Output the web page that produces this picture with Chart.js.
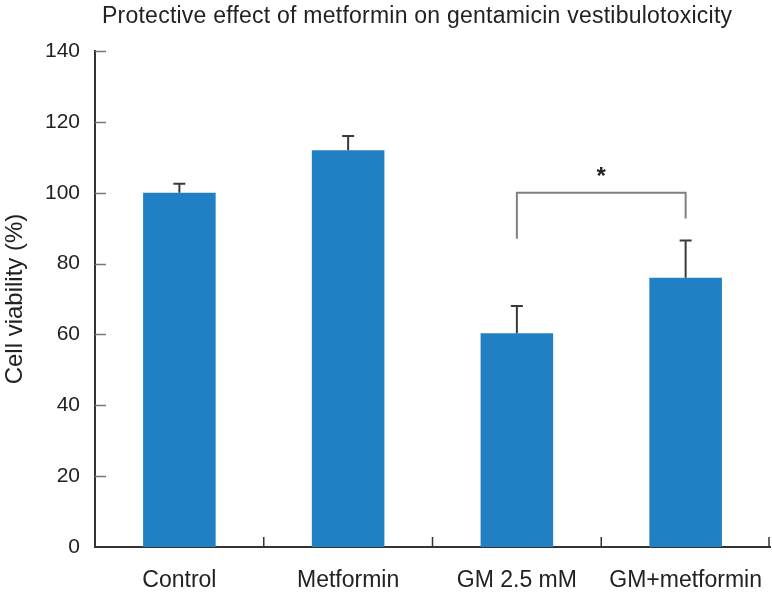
<!DOCTYPE html>
<html>
<head>
<meta charset="utf-8">
<script src="https://cdn.jsdelivr.net/npm/chart.js@4"></script>
<style>
  html, body { margin: 0; padding: 0; background: #fff; }
  #wrap { width: 772px; height: 593px; }
</style>
</head>
<body>
<div id="wrap"><canvas id="chart" width="772" height="593"></canvas></div>
<script>
const TITLE = "Protective effect of metformin on gentamicin vestibulotoxicity";
const CATEGORIES = ["Control", "Metformin", "GM 2.5 mM", "GM+metformin"];
const MEANS = [100, 112, 60.3, 76];
const ERRORS = [2.5, 4, 7.7, 10.5];
const Y_TICKS = [0, 20, 40, 60, 80, 100, 120, 140];

// significance bracket between GM 2.5 mM and GM+metformin
const SIG_PAIR = [2, 3];
const SIG_LEVELS = [87, 100, 92.7]; // left foot, top, right foot
const SIG_LABEL = "*";
const SIG_LABEL_Y = 105.5;

const BAR_COLOR = "#2180c4";
const AXIS_COLOR = "#333333";
const FONT = "Arial, 'Liberation Sans', sans-serif";

const extrasPlugin = {
  id: "extras",
  afterDatasetsDraw(chart) {
    const { ctx, chartArea } = chart;
    const x = chart.scales.x;
    const y = chart.scales.y;
    ctx.save();

    // inward ticks on the y axis
    ctx.strokeStyle = "#777";
    ctx.lineWidth = 1.5;
    for (const v of Y_TICKS) {
      if (v === 0) continue;
      const py = Math.round(y.getPixelForValue(v)) + 0.5;
      ctx.beginPath();
      ctx.moveTo(chartArea.left, py);
      ctx.lineTo(chartArea.left + 11, py);
      ctx.stroke();
    }

    // category separators on the x axis
    ctx.strokeStyle = AXIS_COLOR;
    for (let i = 0; i < CATEGORIES.length; i += 1) {
      let px;
      if (i === CATEGORIES.length - 1) px = chartArea.right - 1;
      else px = (x.getPixelForValue(i) + x.getPixelForValue(i + 1)) / 2;
      ctx.beginPath();
      ctx.moveTo(px, chartArea.bottom);
      ctx.lineTo(px, chartArea.bottom - 10);
      ctx.stroke();
    }

    // error bars (upper only)
    ctx.strokeStyle = "#3a3a3a";
    ctx.lineWidth = 2;
    MEANS.forEach((m, i) => {
      const px = x.getPixelForValue(i);
      const top = y.getPixelForValue(m + ERRORS[i]);
      ctx.beginPath();
      ctx.moveTo(px, y.getPixelForValue(m));
      ctx.lineTo(px, top);
      ctx.moveTo(px - 6, top);
      ctx.lineTo(px + 6, top);
      ctx.stroke();
    });

    // significance bracket
    const lx = x.getPixelForValue(SIG_PAIR[0]);
    const rx = x.getPixelForValue(SIG_PAIR[1]);
    ctx.strokeStyle = "#808080";
    ctx.lineWidth = 2;
    ctx.beginPath();
    ctx.moveTo(lx, y.getPixelForValue(SIG_LEVELS[0]));
    ctx.lineTo(lx, y.getPixelForValue(SIG_LEVELS[1]));
    ctx.lineTo(rx, y.getPixelForValue(SIG_LEVELS[1]));
    ctx.lineTo(rx, y.getPixelForValue(SIG_LEVELS[2]));
    ctx.stroke();

    ctx.fillStyle = "#222";
    ctx.font = `bold 24px ${FONT}`;
    ctx.textAlign = "center";
    ctx.textBaseline = "middle";
    ctx.fillText(SIG_LABEL, (lx + rx) / 2, y.getPixelForValue(SIG_LABEL_Y) + 4);
    ctx.restore();
  },
  afterDraw(chart) {
    const { ctx } = chart;
    ctx.save();
    ctx.fillStyle = "#222";
    ctx.font = `23px ${FONT}`;
    ctx.textBaseline = "alphabetic";
    ctx.textAlign = "left";
    const target = 630;
    const w = ctx.measureText(TITLE).width;
    const spacing = Math.max(0, (target - w) / (TITLE.length - 1));
    if ("letterSpacing" in ctx) ctx.letterSpacing = `${spacing}px`;
    ctx.fillText(TITLE, 102, 23);
    ctx.restore();
  },
};

new Chart(document.getElementById("chart"), {
  type: "bar",
  data: {
    labels: CATEGORIES,
    datasets: [
      {
        data: MEANS,
        backgroundColor: BAR_COLOR,
        borderWidth: 0,
        categoryPercentage: 1,
        barPercentage: 0.43,
      },
    ],
  },
  options: {
    responsive: false,
    animation: false,
    layout: { padding: { top: 51, right: 2, left: 0, bottom: 0 } },
    plugins: {
      legend: { display: false },
      tooltip: { enabled: false },
      title: { display: false },
    },
    scales: {
      x: {
        grid: { display: false, drawTicks: false },
        border: { display: true, color: AXIS_COLOR, width: 2 },
        ticks: {
          color: "#222",
          padding: 20,
          font: { family: FONT, size: 23 },
          maxRotation: 0,
        },
        afterFit(scale) {
          scale.height = 46;
          scale.paddingLeft = 0;
          scale.paddingRight = 0;
        },
      },
      y: {
        min: 0,
        max: 140,
        afterBuildTicks(scale) {
          scale.ticks = Y_TICKS.map((v) => ({ value: v }));
        },
        grid: { display: false, drawTicks: false },
        border: { display: true, color: AXIS_COLOR, width: 2 },
        ticks: {
          color: "#222",
          padding: 15,
          font: { family: FONT, size: 21 },
        },
        title: {
          display: true,
          text: "Cell viability (%)",
          color: "#222",
          padding: { top: 1, bottom: 0 },
          font: { family: FONT, size: 24 },
        },
        afterFit(scale) {
          scale.width = 95;
        },
      },
    },
  },
  plugins: [extrasPlugin],
});
</script>
</body>
</html>
